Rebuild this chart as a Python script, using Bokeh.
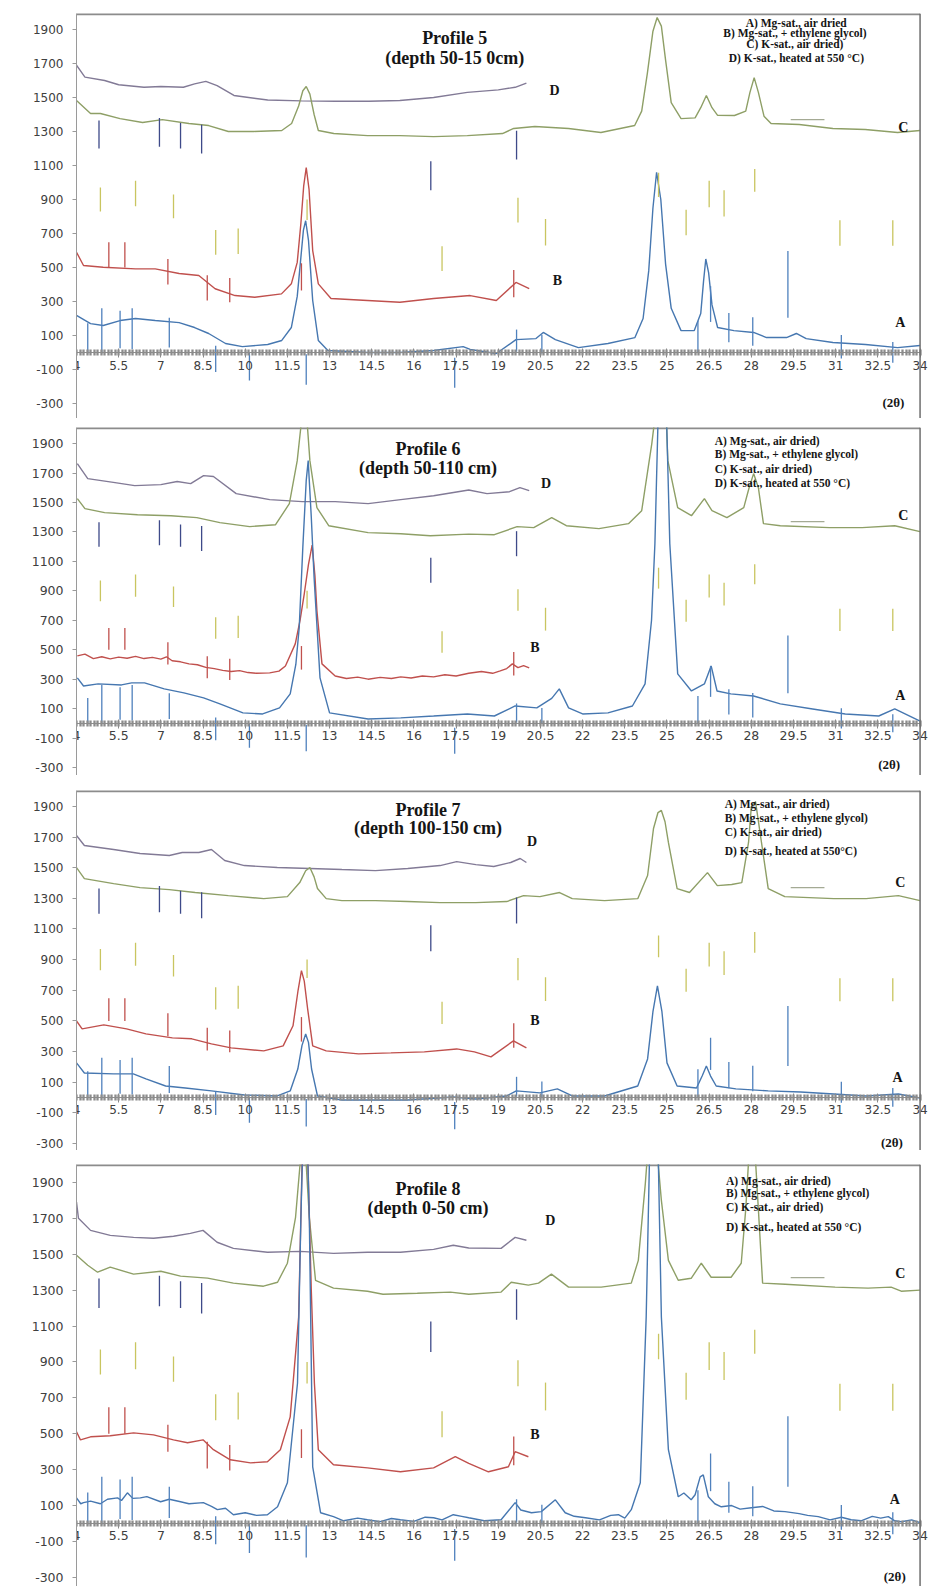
import numpy as np
from bokeh.plotting import figure
from bokeh.layouts import column
from bokeh.models import Range1d, LinearAxis, FixedTicker, CustomJSTickFormatter, Span
from bokeh.embed import file_html
from bokeh.resources import INLINE
from bokeh.core.properties import value

# ---------------- tick labels ----------------
x_tick_values = [4, 5.5, 7, 8.5, 10, 11.5, 13, 14.5, 16, 17.5, 19, 20.5, 22, 23.5, 25, 26.5, 28, 29.5, 31, 32.5, 34]
y_tick_values = [-300, -100, 100, 300, 500, 700, 900, 1100, 1300, 1500, 1700, 1900]

# ---------------- Profile 5 ----------------
p5_D_x = [4.0, 4.3, 5.0, 5.5, 6.4, 7.0, 7.8, 8.2, 8.6, 9.0, 9.6, 10.8, 12.0, 13.2, 14.4, 15.5, 16.7, 17.9, 19.0, 19.6, 20.0]
p5_D_y = [1690, 1620, 1600, 1575, 1560, 1565, 1560, 1580, 1595, 1570, 1512, 1485, 1480, 1478, 1478, 1482, 1500, 1530, 1545, 1560, 1585]
p5_C_x = [4.0, 4.5, 4.85, 5.55, 6.35, 7.05, 8.0, 8.7, 9.4, 10.3, 11.3, 11.65, 11.9, 12.05, 12.17, 12.3, 12.45, 12.6, 13.15,
          14.35, 15.5, 16.7, 17.9, 19.15, 19.55, 20.3, 21.5, 22.65, 23.85, 24.1, 24.3, 24.5, 24.65, 24.8, 24.95, 25.15,
          25.5, 26.0, 26.2, 26.4, 26.6, 26.8, 27.4, 27.8, 27.95, 28.1, 28.25, 28.45, 28.7, 29.7, 30.9, 32.05, 33.2, 34.0]
p5_C_y = [1482, 1406, 1406, 1376, 1353, 1370, 1347, 1335, 1300, 1300, 1306, 1347, 1450, 1540, 1565, 1520, 1400, 1306, 1288,
          1276, 1276, 1270, 1276, 1288, 1318, 1329, 1318, 1294, 1335, 1420, 1640, 1890, 1970, 1920, 1720, 1470,
          1376, 1380, 1440, 1512, 1440, 1395, 1394, 1420, 1530, 1617, 1530, 1390, 1347, 1341, 1318, 1312, 1294, 1306]
p5_B_x = [4.0, 4.25, 4.95, 6.1, 6.8, 7.65, 8.35, 8.93, 9.64, 10.34, 11.29, 11.64, 11.85, 11.98, 12.08, 12.17, 12.27, 12.4,
          12.6, 13.05, 14.35, 15.5, 16.7, 18.0, 18.93, 19.63, 20.1]
p5_B_y = [590, 512, 502, 492, 492, 465, 453, 375, 335, 325, 345, 404, 530, 760, 980, 1088, 960, 600,
          404, 318, 306, 296, 318, 335, 306, 412, 376]
p5_A_x = [4.0, 4.5, 4.95, 5.55, 6.1, 6.8, 7.65, 8.2, 8.7, 9.3, 9.9, 10.8, 11.3, 11.64, 11.85, 11.98, 12.07, 12.15, 12.25,
          12.4, 12.6, 12.94, 14.35, 15.5, 16.7, 17.75, 18.0, 18.93, 19.63, 20.34, 20.6, 21.03, 21.85, 22.9, 23.86, 24.15,
          24.35, 24.5, 24.63, 24.78, 24.95, 25.15, 25.5, 25.97, 26.2, 26.3, 26.38, 26.48, 26.6, 26.8, 27.38, 28.08, 28.54,
          29.25, 29.6, 29.95, 30.9, 32.06, 33.2, 34.0]
p5_A_y = [218, 170, 159, 188, 200, 188, 176, 147, 112, 53, 35, 47, 71, 147, 330, 560, 720, 775, 660,
          306, 71, 12, 0, 0, 12, 35, 18, -6, 76, 82, 118, 76, 29, 53, 88, 200,
          480, 850, 1060, 900, 520, 260, 129, 129, 229, 420, 550, 470, 280, 147, 129, 118, 88,
          88, 112, 82, 59, 47, 29, 41]

# ---------------- Profile 6 ----------------
p6_D_x = [4.03, 4.4, 5.37, 6.07, 7.0, 7.58, 8.06, 8.52, 8.87, 9.68, 10.87, 12.03, 13.2, 14.37, 15.53, 16.7, 17.95, 18.6, 19.4, 19.77, 20.1]
p6_D_y = [1764, 1662, 1635, 1614, 1621, 1642, 1628, 1682, 1676, 1560, 1519, 1506, 1506, 1492, 1519, 1546, 1585, 1560, 1573, 1601, 1580]
p6_C_x = [4.03, 4.3, 5.0, 6.17, 7.36, 8.28, 9.1, 10.16, 11.08, 11.57, 11.85, 12.0, 12.1, 12.2, 12.3, 12.55, 12.97, 14.37,
          15.53, 16.58, 17.95, 18.86, 19.67, 20.26, 20.9, 21.42, 22.58, 23.63, 24.1, 24.46, 24.65, 24.8, 24.95, 25.03,
          25.38, 25.87, 26.33, 26.6, 27.13, 27.73, 27.92, 28.08, 28.25, 28.43, 29.03, 30.78, 31.94, 33.1, 34.0]
p6_C_y = [1526, 1458, 1431, 1417, 1410, 1397, 1363, 1336, 1349, 1492, 1784, 2050, 2150, 2050, 1784, 1465, 1342, 1295,
          1288, 1274, 1285, 1281, 1336, 1329, 1397, 1342, 1322, 1356, 1444, 1900, 2200, 2300, 2200, 1784,
          1465, 1410, 1526, 1444, 1397, 1465, 1600, 1696, 1600, 1356, 1342, 1329, 1329, 1342, 1302]
p6_B_x = [4.03, 4.3, 4.6, 4.9, 5.2, 5.5, 5.8, 6.1, 6.4, 6.7, 7.0, 7.2, 7.4, 7.7, 8.0, 8.3, 8.6, 8.9, 9.2, 9.5, 9.8,
          10.1, 10.4, 10.87, 11.2, 11.43, 11.78, 11.95, 12.1, 12.25, 12.38, 12.48, 12.55, 12.73, 13.2, 13.6, 14.0,
          14.37, 14.8, 15.2, 15.53, 15.9, 16.3, 16.7, 17.1, 17.5, 17.95, 18.4, 18.8, 19.07, 19.3, 19.5, 19.7, 19.9, 20.1]
p6_B_y = [458, 470, 440, 452, 438, 450, 442, 455, 440, 448, 436, 452, 425, 418, 404, 398, 380, 372, 360, 352, 358,
          345, 340, 343, 355, 390, 540, 700, 880, 1080, 1210, 1000, 764, 404, 322, 305, 314,
          300, 312, 305, 316, 308, 322, 316, 330, 322, 340, 352, 340, 356, 372, 404, 378, 392, 377]
p6_A_x = [4.03, 4.25, 4.77, 5.6, 5.96, 6.42, 7.12, 7.82, 8.52, 9.1, 9.92, 10.62, 11.22, 11.6, 11.8, 11.92, 12.05, 12.17,
          12.24, 12.35, 12.45, 12.66, 13.0, 14.37, 15.53, 16.7, 17.9, 18.86, 19.6, 20.37, 20.9, 21.17, 21.5, 22.0, 22.9,
          23.77, 24.22, 24.45, 24.57, 24.7, 24.85, 24.98, 25.1, 25.38, 25.87, 26.33, 26.57, 26.78, 27.27, 28.08, 29.03,
          30.18, 31.34, 32.53, 33.1, 34.0]
p6_A_y = [309, 254, 268, 261, 275, 275, 234, 207, 173, 132, 71, 64, 105, 200, 400, 649, 1200, 1650,
          1784, 1400, 989, 309, 71, 30, 37, 50, 64, 50, 118, 105, 170, 234, 105, 64, 71,
          118, 268, 700, 1220, 2200, 2300, 2100, 1220, 336, 220, 268, 390, 220, 200, 186, 132,
          98, 64, 50, 98, 16]

# ---------------- Profile 7 ----------------
p7_D_x = [4.0, 4.28, 5.32, 6.26, 7.3, 7.76, 8.35, 8.8, 9.27, 9.97, 11.14, 12.3, 13.44, 14.63, 15.78, 16.93, 17.52, 18.2, 18.84, 19.44, 19.78, 20.0]
p7_D_y = [1710, 1645, 1619, 1593, 1580, 1599, 1599, 1619, 1547, 1514, 1501, 1495, 1488, 1481, 1495, 1514, 1540, 1520, 1508, 1534, 1560, 1534]
p7_C_x = [4.0, 4.28, 5.32, 6.26, 7.3, 8.22, 9.4, 10.66, 11.5, 11.94, 12.15, 12.3, 12.45, 12.57, 12.88, 13.44, 14.63, 15.78,
          16.93, 18.2, 19.3, 19.9, 20.48, 21.18, 21.63, 22.78, 23.96, 24.31, 24.52, 24.68, 24.8, 24.93, 25.05, 25.36, 25.8,
          26.44, 26.79, 27.3, 27.66, 27.9, 28.0, 28.15, 28.36, 28.6, 29.19, 30.93, 32.08, 33.23, 34.0]
p7_C_y = [1501, 1429, 1396, 1370, 1357, 1338, 1318, 1298, 1311, 1403, 1480, 1501, 1440, 1364, 1298, 1285, 1285, 1279,
          1272, 1272, 1279, 1318, 1311, 1338, 1298, 1285, 1298, 1449, 1756, 1860, 1874, 1800, 1665, 1364, 1338,
          1468, 1383, 1390, 1403, 1665, 1900, 1930, 1665, 1364, 1311, 1298, 1298, 1318, 1285]
p7_B_x = [4.0, 4.2, 4.97, 5.78, 6.47, 7.41, 8.1, 8.8, 9.5, 10.66, 11.35, 11.7, 11.88, 12.0, 12.1, 12.22, 12.4, 12.88,
          14.03, 15.18, 16.37, 17.52, 18.15, 18.74, 19.54, 20.0]
p7_B_y = [500, 448, 474, 448, 415, 389, 383, 350, 324, 304, 337, 468, 700, 828, 760, 579, 337, 304,
          285, 291, 298, 317, 298, 265, 370, 324]
p7_A_x = [4.0, 4.28, 5.32, 6.02, 6.47, 7.17, 7.87, 8.8, 9.97, 11.14, 11.6, 11.87, 12.02, 12.15, 12.25, 12.36, 12.57,
          13.44, 15.78, 17.4, 18.2, 19.3, 19.64, 20.48, 21.1, 21.63, 22.78, 23.96, 24.31, 24.5, 24.66, 24.82, 25.0,
          25.36, 26.05, 26.25, 26.4, 26.55, 26.75, 27.45, 28.6, 29.75, 30.93, 32.08, 33.23, 34.0]
p7_A_y = [226, 160, 154, 154, 121, 75, 62, 43, 16, 10, 43, 186, 340, 415, 360, 186, 10,
          -16, -16, 3, -10, 10, 43, 30, 56, 10, 10, 75, 252, 560, 729, 560, 226,
          75, 62, 140, 206, 140, 75, 56, 43, 36, 23, 10, 23, -3]

# ---------------- Profile 8 ----------------
p8_D_x = [4.0, 4.07, 4.5, 5.2, 6.03, 6.74, 7.45, 8.05, 8.5, 9.0, 9.58, 10.79, 11.96, 13.14, 14.35, 15.52, 16.7, 17.4, 17.95, 19.1, 19.6, 20.0]
p8_D_y = [1790, 1700, 1633, 1605, 1594, 1589, 1600, 1616, 1633, 1567, 1533, 1511, 1516, 1505, 1511, 1511, 1527, 1550, 1535, 1533, 1594, 1578]
p8_C_x = [4.0, 4.4, 4.75, 5.2, 6.03, 7.0, 7.7, 8.66, 9.58, 10.65, 11.15, 11.5, 11.79, 11.95, 12.05, 12.15, 12.28, 12.5,
          13.14, 14.35, 14.9, 16.12, 17.3, 17.95, 19.1, 19.46, 20.07, 20.43, 20.89, 21.5, 22.66, 23.73, 23.98, 24.23,
          24.4, 24.55, 24.8, 25.05, 25.4, 25.86, 26.22, 26.57, 27.28, 27.64, 27.8, 27.95, 28.1, 28.25, 28.4, 29.2,
          30.98, 32.15, 32.97, 33.33, 34.0]
p8_C_y = [1494, 1439, 1400, 1428, 1389, 1405, 1378, 1367, 1339, 1322, 1344, 1450, 1706, 2000, 2200, 2050, 1706, 1355,
          1311, 1294, 1277, 1283, 1289, 1277, 1289, 1344, 1328, 1339, 1389, 1317, 1317, 1339, 1466, 1895,
          2250, 2250, 1800, 1466, 1355, 1366, 1450, 1372, 1372, 1450, 1750, 2150, 2150, 1750, 1339, 1333,
          1317, 1311, 1317, 1294, 1300]
p8_B_x = [4.0, 4.14, 4.5, 5.2, 6.03, 6.74, 7.45, 7.95, 8.5, 8.87, 9.47, 10.19, 10.79, 11.25, 11.6, 11.9, 12.05, 12.2,
          12.35, 12.46, 12.6, 13.14, 14.35, 15.52, 16.7, 17.47, 17.95, 18.65, 19.36, 19.6, 20.07]
p8_B_y = [511, 466, 483, 489, 505, 494, 466, 450, 466, 411, 355, 338, 344, 411, 594, 1150, 2200, 2200,
          1300, 783, 411, 327, 310, 288, 310, 372, 335, 288, 316, 400, 372]
p8_A_x = [4.0, 4.15, 4.25, 4.5, 4.85, 5.1, 5.46, 5.6, 5.81, 6.0, 6.27, 6.5, 6.99, 7.3, 7.7, 8.0, 8.51, 8.8, 9.01, 9.3,
          9.58, 10.0, 10.4, 10.79, 11.15, 11.5, 11.86, 11.98, 12.08, 12.18, 12.28, 12.4, 12.68, 13.14, 13.5, 14.0,
          14.35, 14.8, 15.2, 15.52, 16.0, 16.4, 16.7, 17.0, 17.4, 17.7, 17.95, 18.5, 19.1, 19.6, 19.8, 20.18, 20.53,
          21.03, 21.38, 21.7, 22.1, 22.6, 23.0, 23.27, 23.5, 23.73, 24.05, 24.26, 24.4, 24.55, 24.67, 24.8, 25.05,
          25.4, 25.6, 25.86, 26.0, 26.18, 26.29, 26.47, 26.7, 26.93, 27.3, 27.6, 28.0, 28.4, 28.8, 29.2, 29.7, 30.0,
          30.38, 30.8, 31.2, 31.55, 31.9, 32.3, 32.6, 32.87, 33.1, 33.33, 33.7, 34.0]
p8_A_y = [143, 110, 116, 125, 110, 135, 143, 128, 171, 140, 143, 150, 121, 135, 121, 110, 116, 95, 77, 85,
          49, 60, 45, 49, 93, 227, 783, 1700, 2300, 2300, 1700, 316, 60, 38, 15, 30,
          21, 10, 28, 21, 12, 35, 32, 20, 49, 40, 32, 15, 21, 116, 75, 60, 66,
          132, 60, 40, 32, 20, 45, 49, 30, 77, 227, 1150, 2200, 2350, 2200, 1150, 411,
          149, 170, 132, 160, 260, 271, 149, 110, 93, 100, 80, 88, 95, 70, 66, 55, 45,
          38, 20, 35, 21, 15, 40, 30, 38, 15, 10, 20, 5]

# ---------------- reference (peak position) markers ----------------
navy_x = [4.8, 6.95, 7.7, 8.45, 16.6, 19.65]
navy_y0 = [1200, 1210, 1200, 1170, 955, 1135]
navy_y1 = [1365, 1380, 1350, 1340, 1125, 1305]
yellow_x = [4.85, 6.1, 7.45, 8.95, 9.75, 12.2, 17.0, 19.7, 20.68, 24.7, 25.68, 26.5, 27.03, 28.12, 31.15, 33.03]
yellow_y0 = [830, 860, 790, 575, 580, 780, 480, 765, 630, 915, 690, 855, 800, 945, 628, 628]
yellow_y1 = [970, 1010, 930, 720, 730, 900, 625, 910, 785, 1057, 840, 1010, 955, 1080, 778, 778]
red_x = [5.15, 5.72, 7.25, 8.65, 9.45, 12.0, 19.55]
red_y0 = [500, 500, 400, 306, 295, 365, 325]
red_y1 = [648, 648, 550, 455, 438, 525, 485]
blue_x = [4.4, 4.9, 5.55, 5.98, 7.3, 8.95, 10.15, 12.17, 17.45, 19.65, 20.55, 26.1, 26.55, 27.2, 28.05, 29.3, 31.2, 33.03]
blue_y0 = [-5, -5, 25, 20, 30, -115, -165, -190, -207, 5, -5, 0, 180, 60, 40, 205, -35, -60]
blue_y1 = [172, 260, 245, 260, 205, 40, 0, -10, -30, 135, 105, 185, 390, 232, 207, 597, 103, 62]
dash_x0 = [29.4]
dash_x1 = [30.6]
dash_y = [1370]

# ---------------- texts ----------------
titles = {5: ["Profile 5", "(depth 50-15 0cm)"], 6: ["Profile 6", "(depth 50-110 cm)"],
          7: ["Profile 7", "(depth 100-150 cm)"], 8: ["Profile 8", "(depth 0-50 cm)"]}
legend_5 = ["A) Mg-sat., air dried", "B)  Mg-sat., + ethylene glycol)", "C)  K-sat., air dried)", "D) K-sat., heated at 550 °C)"]
legend_6 = ["A) Mg-sat., air dried)", "B)  Mg-sat., + ethylene glycol)", "C)  K-sat., air dried)", " D) K-sat., heated at 550 °C)"]
legend_7 = ["A) Mg-sat., air dried)", " B)  Mg-sat., + ethylene glycol)", " C)  K-sat., air dried)", " D) K-sat., heated at 550°C)"]
legend_8 = ["A) Mg-sat., air dried)", " B)  Mg-sat., + ethylene glycol)", " C)  K-sat., air dried)", " D) K-sat., heated at 550 °C)"]
curve_letters = ["D", "C", "B", "A"]
axis_unit = "(2θ)"

COL_A = "#4677b0"
COL_B = "#c0504d"
COL_C = "#8e9f66"
COL_D = "#827a96"
GRAY = "#8c8c8c"
SERIF = value("Liberation Serif")

panels = [
    dict(key=5, h=418, bt=13, bl=73, br=4, y0=-388, y1=1994,
         curves=[(p5_D_x, p5_D_y, COL_D), (p5_C_x, p5_C_y, COL_C), (p5_B_x, p5_B_y, COL_B), (p5_A_x, p5_A_y, COL_A)],
         title_x=17.45, title_y=[1850, 1735],
         leg=legend_5, leg_x=29.6, leg_y=[1940, 1878, 1812, 1735], leg_align="center",
         lab_x=[21.0, 33.4, 21.1, 33.3], lab_y=[1541, 1324, 424, 176], unit_x=33.05, unit_y=-294, fs="12px"),
    dict(key=6, h=357, bt=9, bl=71, br=2, y0=-354, y1=2009,
         curves=[(p6_D_x, p6_D_y, COL_D), (p6_C_x, p6_C_y, COL_C), (p6_B_x, p6_B_y, COL_B), (p6_A_x, p6_A_y, COL_A)],
         title_x=16.5, title_y=[1866, 1737],
         leg=legend_6, leg_x=26.7, leg_y=[1914, 1832, 1730, 1635], leg_align="left",
         lab_x=[20.7, 33.4, 20.3, 33.3], lab_y=[1628, 1410, 512, 186], unit_x=32.9, unit_y=-276, fs="12.5px"),
    dict(key=7, h=375, bt=15, bl=62, br=6, y0=-346, y1=2004,
         curves=[(p7_D_x, p7_D_y, COL_D), (p7_C_x, p7_C_y, COL_C), (p7_B_x, p7_B_y, COL_B), (p7_A_x, p7_A_y, COL_A)],
         title_x=16.5, title_y=[1874, 1756],
         leg=legend_7, leg_x=27.05, leg_y=[1913, 1822, 1730, 1606], leg_align="left",
         lab_x=[20.2, 33.3, 20.3, 33.2], lab_y=[1671, 1403, 501, 129], unit_x=33.0, unit_y=-296, fs="12px"),
    dict(key=8, h=436, bt=14, bl=76, br=10, y0=-351, y1=2000,
         curves=[(p8_D_x, p8_D_y, COL_D), (p8_C_x, p8_C_y, COL_C), (p8_B_x, p8_B_y, COL_B), (p8_A_x, p8_A_y, COL_A)],
         title_x=16.5, title_y=[1861, 1755],
         leg=legend_8, leg_x=27.1, leg_y=[1906, 1839, 1761, 1650], leg_align="left",
         lab_x=[20.85, 33.3, 20.3, 33.1], lab_y=[1689, 1394, 494, 133], unit_x=33.1, unit_y=-295, fs="12.5px"),
]

X_START, X_END, X_VIEW_END = 4, 34, 34.3
minor_positions = list(np.arange(4.0, 34.001, 0.125))
fmt_code = "return tick.toString()"


def make_panel(cfg):
    p = figure(width=938, height=cfg["h"], x_range=Range1d(X_START, X_VIEW_END), y_range=Range1d(cfg["y0"], cfg["y1"]),
               output_backend="svg", toolbar_location=None, x_axis_location=None,
               min_border_left=cfg["bl"], min_border_right=cfg["br"], min_border_top=cfg["bt"], min_border_bottom=0,
               background_fill_color="white", border_fill_color="white")
    p.outline_line_color = None
    p.grid.visible = False

    yax = p.yaxis[0]
    yax.ticker = FixedTicker(ticks=y_tick_values)
    yax.formatter = CustomJSTickFormatter(code=fmt_code)
    yax.axis_line_color = "#9a9a9a"
    yax.major_tick_line_color = "#9a9a9a"
    yax.major_tick_out = 4
    yax.major_tick_in = 0
    yax.minor_tick_line_color = None
    yax.major_label_standoff = 9
    yax.major_label_text_font = "DejaVu Sans"
    yax.major_label_text_font_size = cfg["fs"]
    yax.major_label_text_color = "#404040"

    xax = LinearAxis(fixed_location=0, bounds=(X_START, X_END),
                     ticker=FixedTicker(ticks=x_tick_values, minor_ticks=minor_positions),
                     formatter=CustomJSTickFormatter(code=fmt_code))
    xax.axis_line_color = GRAY
    xax.major_tick_line_color = GRAY
    xax.major_tick_in = 4
    xax.major_tick_out = 5
    xax.minor_tick_line_color = GRAY
    xax.minor_tick_line_width = 2.3
    xax.minor_tick_in = 3
    xax.minor_tick_out = 3
    xax.major_label_standoff = 3
    xax.major_label_text_font = "DejaVu Sans"
    xax.major_label_text_font_size = cfg["fs"]
    xax.major_label_text_color = "#404040"
    p.add_layout(xax, "below")

    # frame lines (top, ending at the right border, and right)
    p.segment(x0=[X_START], y0=[cfg["y1"]], x1=[X_END], y1=[cfg["y1"]], line_color=GRAY, line_width=3.5)
    p.add_layout(Span(location=X_END, dimension="height", line_color="#6e6e6e", line_width=1.5))

    for xs, ys, col in cfg["curves"]:
        p.line(xs, ys, line_color=col, line_width=1.4)

    p.segment(x0=navy_x, y0=navy_y0, x1=navy_x, y1=navy_y1, line_color="#3e4a89", line_width=1.3)
    p.segment(x0=yellow_x, y0=yellow_y0, x1=yellow_x, y1=yellow_y1, line_color="#c9c560", line_width=1.3)
    p.segment(x0=red_x, y0=red_y0, x1=red_x, y1=red_y1, line_color="#c0504d", line_width=1.3)
    p.segment(x0=blue_x, y0=blue_y0, x1=blue_x, y1=blue_y1, line_color="#4f81bd", line_width=1.3)
    p.segment(x0=dash_x0, y0=dash_y, x1=dash_x1, y1=dash_y, line_color="#a4aa94", line_width=1.3)

    p.text(x=[cfg["title_x"]] * 2, y=cfg["title_y"], text=titles[cfg["key"]],
           text_font=SERIF, text_font_style="bold", text_font_size="18px",
           text_align="center", text_baseline="middle", text_color="#151515")
    p.text(x=[cfg["leg_x"]] * 4, y=cfg["leg_y"], text=cfg["leg"],
           text_font=SERIF, text_font_style="bold", text_font_size="11.5px",
           text_align=cfg["leg_align"], text_baseline="middle", text_color="#151515")
    p.text(x=cfg["lab_x"], y=cfg["lab_y"], text=curve_letters,
           text_font=SERIF, text_font_style="bold", text_font_size="14px",
           text_align="center", text_baseline="middle", text_color="#151515")
    p.text(x=[cfg["unit_x"]], y=[cfg["unit_y"]], text=[axis_unit],
           text_font=SERIF, text_font_style="bold", text_font_size="13px",
           text_align="center", text_baseline="middle", text_color="#151515")
    return p


figs = [make_panel(c) for c in panels]
layout = column(*figs, spacing=0)

open("out.html", "w").write(file_html(layout, INLINE))
